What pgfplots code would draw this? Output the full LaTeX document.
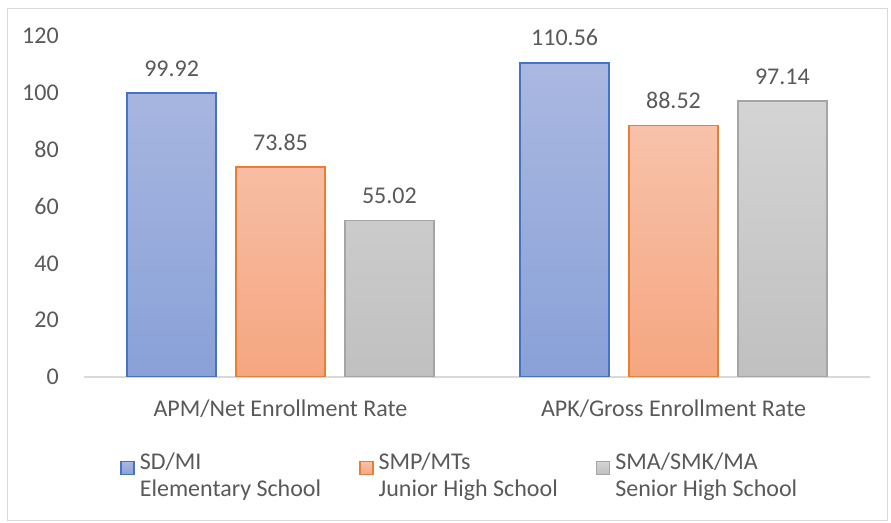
\documentclass[border=0pt]{standalone}
\usepackage{pgfplots}
\pgfplotsset{compat=1.18}
\usepackage{fontspec}
\setmainfont{Carlito}

\definecolor{txt}{RGB}{89,89,89}
\definecolor{axgray}{RGB}{217,217,217}
\definecolor{bluetop}{RGB}{170,184,225}
\definecolor{bluebot}{RGB}{137,161,216}
\definecolor{blueline}{RGB}{68,114,196}
\definecolor{orangetop}{RGB}{247,194,170}
\definecolor{orangebot}{RGB}{245,166,128}
\definecolor{orangeline}{RGB}{237,125,49}
\definecolor{graytop}{RGB}{212,212,212}
\definecolor{graybot}{RGB}{192,192,192}
\definecolor{grayline}{RGB}{165,165,165}

% values: SD/MI, SMP/MTs, SMA/SMK/MA at 0 = APM, 1 = APK
\pgfplotstableread{
x sd smp sma
0 99.92 73.85 55.02
1 110.56 88.52 97.14
}\rates

\begin{document}
\begin{tikzpicture}
\useasboundingbox (0,0) rectangle (891bp,523bp);
\draw[axgray, line width=1bp] (7.5bp,2.5bp) rectangle (887.5bp,514.5bp);
\begin{axis}[
  at={(84bp,146bp)}, anchor=south west,
  scale only axis, width=786bp, height=341bp,
  xmin=-0.5, xmax=1.5, ymin=0, ymax=120,
  ybar, bar width=0.2265,
  axis x line=bottom, axis y line=left,
  x axis line style={-, draw=axgray, line width=1.5bp},
  y axis line style={draw=none},
  tick style={draw=none},
  font=\fontsize{24bp}{27bp}\selectfont,
  /pgf/number format/assume math mode=true,
  ytick={0,20,...,120},
  yticklabel style={text=txt, inner sep=0pt, anchor=east, xshift=-23bp},
  xtick={0,1},
  xticklabels={APM/Net Enrollment Rate, APK/Gross Enrollment Rate},
  xticklabel style={text=txt, inner sep=0pt, anchor=north, yshift=-21bp},
  nodes near coords={\pgfmathprintnumber[fixed,precision=2,fixed zerofill]{\pgfplotspointmeta}},
  every node near coord/.append style={text=txt, inner sep=0pt, anchor=south, yshift=16bp},
  legend columns=3,
  legend cell align=left,
  legend image code/.code={\draw[#1, line width=1.5bp] (0bp,1bp) rectangle (13bp,14bp);},
  legend style={draw=none, fill=none, inner sep=0pt,
    at={(0.046,-0.222)}, anchor=north west,
    nodes={inner sep=0pt, text=txt, align=left},
    /tikz/every odd column/.append style={column sep=5bp},
    /tikz/every even column/.append style={column sep=38bp}},
]
\addplot[bar shift=-0.277, draw=blueline, line width=1.5bp, top color=bluetop, bottom color=bluebot]
  table[x=x, y=sd] {\rates};
\addplot[bar shift=0, draw=orangeline, line width=1.5bp, top color=orangetop, bottom color=orangebot]
  table[x=x, y=smp] {\rates};
\addplot[bar shift=0.277, draw=grayline, line width=1.5bp, top color=graytop, bottom color=graybot]
  table[x=x, y=sma] {\rates};
\legend{SD/MI\\Elementary School, SMP/MTs\\Junior High School, SMA/SMK/MA\\Senior High School}
\end{axis}
\end{tikzpicture}
\end{document}
